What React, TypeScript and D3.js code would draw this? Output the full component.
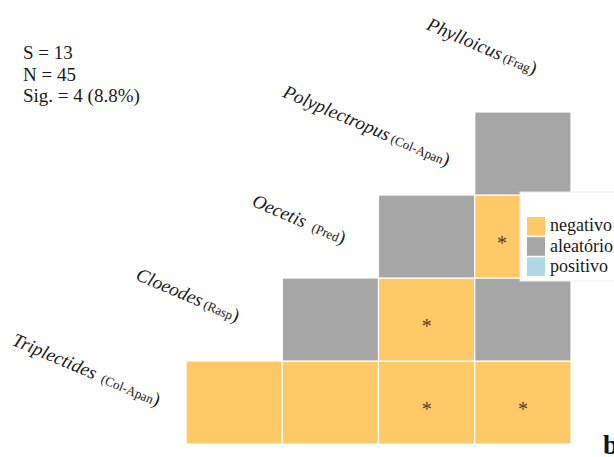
import React from "react";
import * as d3 from "d3";

// Species on the diagonal, bottom-left to top-right, with their feeding guilds
const SPECIES = ["Triplectides", "Cloeodes", "Oecetis", "Polyplectropus", "Phylloicus"];
const GUILDS = ["Col-Apan", "Rasp", "Pred", "Col-Apan", "Frag"];

// Pairwise co-occurrence results
const PAIR_A = ["Triplectides", "Triplectides", "Triplectides", "Triplectides", "Cloeodes", "Cloeodes", "Cloeodes", "Oecetis", "Oecetis", "Polyplectropus"];
const PAIR_B = ["Cloeodes", "Oecetis", "Polyplectropus", "Phylloicus", "Oecetis", "Polyplectropus", "Phylloicus", "Polyplectropus", "Phylloicus", "Phylloicus"];
const PAIR_TYPE = ["negativo", "negativo", "negativo", "negativo", "aleatório", "negativo", "aleatório", "aleatório", "negativo", "aleatório"];
const PAIR_SIG = [false, false, true, true, false, true, false, false, true, false];

const LEGEND_KEYS = ["negativo", "aleatório", "positivo"];
const STATS = ["S = 13", "N = 45", "Sig. = 4 (8.8%)"];

const W = 614;
const H = 457;
const FONT = "'Liberation Serif', 'Times New Roman', Times, serif";

// Label placement relative to the staircase corner of each species
const LABEL_NUDGE: [number, number][] = [[-29, 4], [-46, 3], [-36, 8], [-28, 13], [11, -37]];
const LABEL_GAP = [7, 3, 8, 3, 3];
const LABEL_ANGLE = 23;

const LEGEND_BOX = { x: 520, y: 192, w: 100, h: 89 };

export default function App() {
  const cols = SPECIES.slice(1);
  const rows = SPECIES.slice(0, -1).reverse();

  const x = d3.scaleBand<string>().domain(cols).range([186, 571]).padding(0);
  const y = d3.scaleBand<string>().domain(rows).range([112, 444]).padding(0);
  const color = d3.scaleOrdinal<string, string>().domain(LEGEND_KEYS).range(["#FEC966", "#A6A6A6", "#ADD8E6"]);

  const cells = PAIR_A.map((a, i) => ({
    a,
    b: PAIR_B[i],
    type: PAIR_TYPE[i],
    sig: PAIR_SIG[i],
  }));

  const bw = x.bandwidth();
  const bh = y.bandwidth();

  const labelAnchor = (i: number): [number, number] => {
    const [dx, dy] = LABEL_NUDGE[i];
    if (i < SPECIES.length - 1) {
      return [(x(SPECIES[i + 1]) as number) + dx, (y(SPECIES[i]) as number) + bh / 2 + dy];
    }
    return [(x(SPECIES[i]) as number) + bw / 2 + dx, y.range()[0] + dy];
  };

  const legendY = d3.scaleBand<string>().domain(LEGEND_KEYS).range([217, 276]).paddingInner(0.08);

  return (
    <svg
      width={W}
      height={H}
      viewBox={`0 0 ${W} ${H}`}
      style={{ position: "absolute", left: 0, top: 0, background: "#fff", overflow: "hidden" }}
      fontFamily={FONT}
    >
      {/* summary statistics */}
      <g fill="#1a1a1a" fontSize={19}>
        {STATS.map((s, i) => (
          <text key={s} x={23} y={59 + i * 21.5}>
            {s}
          </text>
        ))}
      </g>

      {/* pair cells */}
      <g>
        {cells.map((c) => (
          <rect
            key={c.a + c.b}
            x={x(c.b)}
            y={y(c.a)}
            width={bw}
            height={bh}
            fill={color(c.type)}
            stroke="#fff"
            strokeWidth={1.2}
          />
        ))}
      </g>

      {/* legend */}
      <g>
        <rect x={LEGEND_BOX.x} y={LEGEND_BOX.y} width={LEGEND_BOX.w} height={LEGEND_BOX.h} fill="#fff" stroke="#eeeeee" strokeWidth={1} />
        {LEGEND_KEYS.map((k) => (
          <g key={k}>
            <rect x={527} y={legendY(k)} width={18} height={legendY.bandwidth()} fill={color(k)} />
            <text x={550} y={(legendY(k) as number) + legendY.bandwidth() / 2 + 5} fontSize={18} fill="#1a1a1a">
              {k}
            </text>
          </g>
        ))}
      </g>

      {/* significance marks */}
      <g fill="#4f3f22" fontSize={20} textAnchor="middle">
        {cells
          .filter((c) => c.sig)
          .map((c) => {
            const x0 = x(c.b) as number;
            const y0 = y(c.a) as number;
            const covered = x0 + bw > LEGEND_BOX.x && y0 < LEGEND_BOX.y + LEGEND_BOX.h && y0 + bh > LEGEND_BOX.y;
            const cx = covered ? x0 + (LEGEND_BOX.x - x0) * 0.6 : x0 + bw / 2;
            const cy = y0 + bh / 2 + 4;
            return (
              <text key={c.a + c.b} x={cx} y={cy + 9}>
                *
              </text>
            );
          })}
      </g>

      {/* diagonal species labels */}
      <g fill="#1a1a1a">
        {SPECIES.map((s, i) => {
          const [ax, ay] = labelAnchor(i);
          return (
            <text key={s} transform={`translate(${ax},${ay}) rotate(${LABEL_ANGLE})`} textAnchor="end">
              <tspan fontStyle="italic" fontSize={19}>
                {s}
              </tspan>
              <tspan fontSize={13} dx={LABEL_GAP[i]}>
                ({GUILDS[i]}
              </tspan>
              <tspan fontSize={19}>)</tspan>
            </text>
          );
        })}
      </g>

      {/* panel letter */}
      <text x={603} y={454} fontSize={27} fontWeight="bold" fill="#111">
        b
      </text>
    </svg>
  );
}
